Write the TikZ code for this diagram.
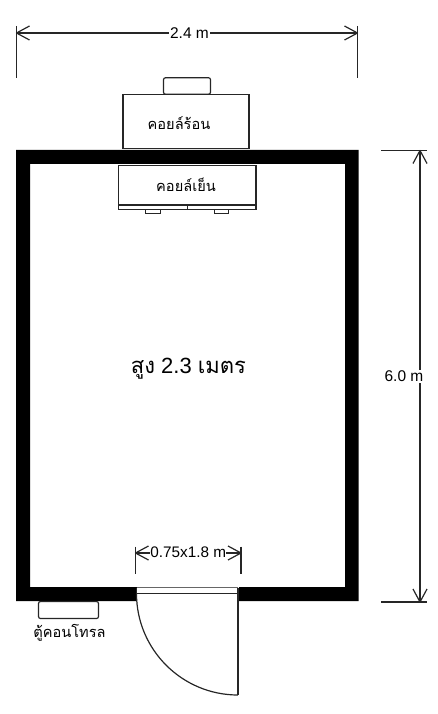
\documentclass[tikz,border=0pt]{standalone}
\usepackage{fontspec}
\setmainfont{Liberation Sans}
\newfontfamily\thaifont[Script=Thai]{Loma}
\usetikzlibrary{arrows.meta,positioning}
\pgfdeclarearrow{
  name=OpenVee,
  setup code={
    \pgfarrowssettipend{0pt}
    \pgfarrowssetlineend{-1pt}
    \pgfarrowssetbackend{-13pt}
    \pgfarrowssetvisualbackend{-1pt}
  },
  drawing code={
    \pgfsetdash{}{0pt}
    \pgfsetroundjoin
    \pgfpathmoveto{\pgfpoint{-13pt}{7pt}}
    \pgfpathlineto{\pgfpointorigin}
    \pgfpathlineto{\pgfpoint{-13pt}{-7pt}}
    \pgfusepathqstroke
  }
}
\tikzset{
  unitbox/.style={draw, fill=white, inner sep=0pt, outer sep=0pt},
  thailabel/.style={inner sep=0pt, font=\thaifont\fontsize{14.6}{15}\selectfont},
  dimlabel/.style={fill=white, inner sep=1pt, font=\fontsize{15.5}{16}\selectfont},
}
\begin{document}
\begin{tikzpicture}[x=1pt, y=-1pt, >=OpenVee, line width=1.2pt, draw=black!85]
\useasboundingbox (0,0) rectangle (437,714);
%
% walls
\fill[black, even odd rule] (16,150) rectangle (358.5,601) (30,164) rectangle (345,587);
%
% door
\node (DF) [fill=white, inner sep=0pt, minimum width=102pt, minimum height=15pt] at (187.5,594.5) {};
\coordinate (D0) at (136.5,587.5);
\coordinate (D1) at (136.5,593.5);
\coordinate (D2) at (238,593.5);
\coordinate (D3) at (238,695);
\coordinate (D4) at (238,587.5);
\draw[draw=black!60] (D0) -- (D4);
\draw (D0) -- (D1) -- (D2);
\draw (D4) -- (D3);
\draw (D1) arc[start angle=180, end angle=90, radius=101.5];
%
% outdoor unit
\node (FAN) [unitbox, rounded corners=2pt, minimum width=47pt, minimum height=16.5pt] at (187,86) {};
\node (OUT) [unitbox, minimum width=126pt, minimum height=54.5pt] at (186,121.5) {};
\node (OUTL) [thailabel] at (179,123.5) {คอยล์ร้อน};
%
% indoor unit
\node (TAB1) [unitbox, minimum width=14.5pt, minimum height=5pt] at (153,211) {};
\node (TAB2) [unitbox, minimum width=14.5pt, minimum height=5pt] at (221.5,211) {};
\node (IN) [unitbox, minimum width=137.5pt, minimum height=43.5pt] at (187.25,187.5) {};
\node (INL) [thailabel] at (186,184.5) {คอยล์เย็น};
\coordinate (V1) at (187.5,205);
\coordinate (V2) at (187.5,209);
\coordinate (H1) at (118.5,205);
\coordinate (H2) at (256,205);
\draw (H1) -- (H2);
\draw (V1) -- (V2);
%
% control box
\node (CTRL) [unitbox, rounded corners=2pt, minimum width=60pt, minimum height=17pt] at (68.5,610) {};
\node (CTRLL) [thailabel] at (69.5,633) {ตู้คอนโทรล};
%
% height label
\node (H) [inner sep=0pt, font=\fontsize{22}{22}\selectfont] at (188.5,369) {{\thaifont สูง} 2.3 {\thaifont เมตร}};
%
% width
\coordinate (W1) at (16.5,26);
\coordinate (W2) at (16.5,78);
\coordinate (W3) at (357.5,26);
\coordinate (W4) at (357.5,78);
\coordinate (W5) at (16.5,33);
\coordinate (W6) at (357.5,33);
\draw (W1) -- (W2);
\draw (W3) -- (W4);
\path (W5) edge[<->] node[dimlabel, xshift=2.5pt] {2.4 m} (W6);
%
% length
\coordinate (L1) at (381,150.5);
\coordinate (L2) at (427,150.5);
\coordinate (L3) at (381,602);
\coordinate (L4) at (427,602);
\coordinate (L5) at (420,150.5);
\coordinate (L6) at (420,602);
\draw (L1) -- (L2);
\draw (L3) -- (L4);
\path (L5) edge[<->] node[dimlabel, xshift=-16pt] {6.0 m} (L6);
%
% door size
\coordinate (S1) at (135.5,546.5);
\coordinate (S2) at (135.5,574);
\coordinate (S3) at (241,546.5);
\coordinate (S4) at (241,574);
\coordinate (S5) at (135.5,553);
\coordinate (S6) at (241,553);
\draw (S1) -- (S2);
\draw (S3) -- (S4);
\path (S5) edge[<->] node[dimlabel, inner sep=0pt, yshift=1pt, font=\fontsize{15.3}{15}\selectfont] {0.75x1.8 m} (S6);
\end{tikzpicture}
\end{document}
